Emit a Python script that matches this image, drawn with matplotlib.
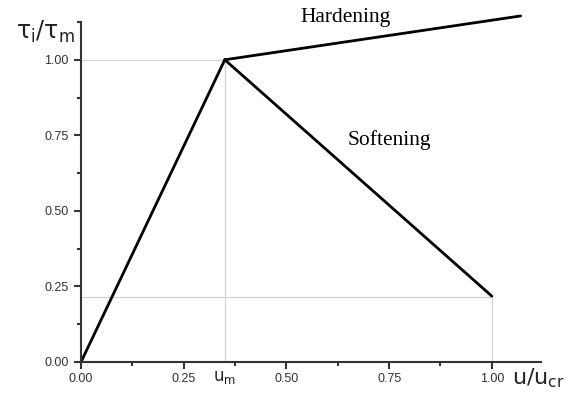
import numpy as np
import matplotlib
matplotlib.use('Agg')
import matplotlib.pyplot as plt
from matplotlib.ticker import MultipleLocator, FormatStrFormatter

# bond-slip law: rising branch then hardening / softening
rise_x = [0.0, 0.35]
rise_y = [0.0, 1.0]
hard_x = [0.35, 1.07]
hard_y = [1.0, 1.145]
soft_x = [0.35, 1.0]
soft_y = [1.0, 0.218]

u_m = 0.35
u_end = 1.0
tau_end = 0.215

fig = plt.figure(figsize=(5.73, 4.0), dpi=100)
ax = fig.add_axes([0.1414, 0.095, 0.803, 0.85])
ax.set_xlim(0, 1.12)
ax.set_ylim(0, 1.125)

# thin guide lines
gc = '#d0d0d0'
ax.plot([0, u_m], [1.0, 1.0], color=gc, lw=0.8)
ax.plot([u_m, u_m], [0, 1.0], color=gc, lw=0.8)
ax.plot([0, u_end], [tau_end, tau_end], color=gc, lw=0.8)
ax.plot([u_end, u_end], [0, tau_end], color=gc, lw=0.8)

ax.plot(rise_x, rise_y, color='black', lw=2.0, solid_capstyle='round')
ax.plot(hard_x, hard_y, color='black', lw=2.0, clip_on=False, solid_capstyle='round')
ax.plot(soft_x, soft_y, color='black', lw=2.0, solid_capstyle='round')

for s in ['top', 'right']:
    ax.spines[s].set_visible(False)
for s in ['left', 'bottom']:
    ax.spines[s].set_linewidth(1.5)
    ax.spines[s].set_color('#333333')

ax.xaxis.set_minor_locator(MultipleLocator(0.125))
ax.yaxis.set_minor_locator(MultipleLocator(0.125))
ax.set_xticks([0, 0.25, 0.5, 0.75, 1.0])
ax.set_yticks([0, 0.25, 0.5, 0.75, 1.0])
ax.xaxis.set_major_formatter(FormatStrFormatter('%.2f'))
ax.yaxis.set_major_formatter(FormatStrFormatter('%.2f'))
ax.tick_params(which='major', direction='out', length=5, width=1.5, color='#333333',
               labelsize=9, labelcolor='#333333', pad=3)
ax.tick_params(axis='y', which='major', pad=4)
ax.tick_params(which='minor', direction='out', length=3, width=1.5, color='#333333')
for lab in ax.get_xticklabels() + ax.get_yticklabels():
    lab.set_fontfamily('Liberation Sans')

fig.text(0.028, 0.92, r'$\mathregular{\tau_i/\tau_m}$', fontsize=17, ha='left', va='center',
         color='#222222', math_fontfamily='dejavusans')
fig.text(0.893, 0.055, r'$\mathregular{u/u_{cr}}$', fontsize=16, ha='left', va='center',
         color='#222222', math_fontfamily='dejavusans')
ax.text(u_m, -0.05, r'$\mathregular{u_m}$', fontsize=12, ha='center', va='center',
        color='#222222', clip_on=False, math_fontfamily='dejavusans')

ax.text(0.534, 1.14, 'Hardening', fontsize=15.5, family='Liberation Serif',
        ha='left', va='center', clip_on=False)
ax.text(0.649, 0.735, 'Softening', fontsize=15.5, family='Liberation Serif',
        ha='left', va='center')

fig.savefig('out.png', dpi=100)
